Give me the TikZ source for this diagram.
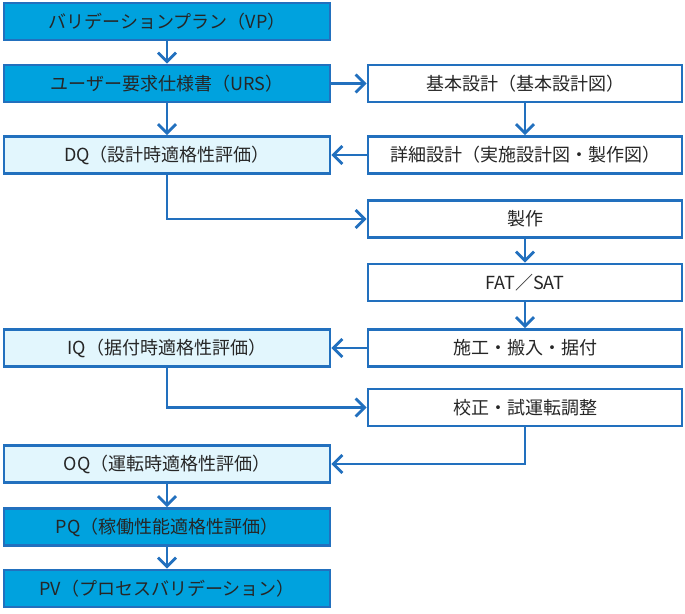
\documentclass[tikz,border=0pt]{standalone}
\usepackage{fontspec}
\newfontfamily\jpfont{Noto Sans CJK JP}
\usetikzlibrary{arrows.meta}

\definecolor{vblue}{RGB}{0,162,222}
\definecolor{vpale}{RGB}{226,246,253}
\definecolor{vline}{RGB}{34,112,190}

\tikzset{
  box/.style={draw=vline,line width=2.8pt,inner sep=0pt,minimum height=37pt,
    font=\jpfont\fontsize{18}{20}\selectfont,text=black!85},
  leftbox/.style={box,minimum width=326pt},
  rightbox/.style={box,fill=white,minimum width=314pt},
  darkbox/.style={leftbox,fill=vblue},
  palebox/.style={leftbox,fill=vpale},
  flow/.style={draw=vline,line width=2.8pt,-{Straight Barb[length=9pt,width=18pt,line width=2.8pt]}}
}

\begin{document}
\begin{tikzpicture}[x=1pt,y=-1pt]

\useasboundingbox (0,0) rectangle (685,613);

\def\lx{167} \def\rx{525}
\def\ya{21.5} \def\yb{83.5} \def\yc{155} \def\yd{219} \def\ye{282.5}
\def\yf{348} \def\yg{407.5} \def\yh{464} \def\yi{527} \def\yj{588.5}

% left column
\node [darkbox] (vp) at (\lx,\ya) {バリデーションプラン（VP）};
\node [darkbox] (urs) at (\lx,\yb) {ユーザー要求仕様書（URS）};
\node [palebox] (dq) at (\lx,\yc) {DQ（設計時適格性評価）};
\node [palebox] (iq) at (\lx,\yf) {IQ（据付時適格性評価）};
\node [palebox] (oq) at (\lx,\yh) {OQ（運転時適格性評価）};
\node [darkbox] (pq) at (\lx,\yi) {PQ（稼働性能適格性評価）};
\node [darkbox] (pv) at (\lx,\yj) {PV（プロセスバリデーション）};

% right column
\node [rightbox] (kihon) at (\rx,\yb) {基本設計（基本設計図）};
\node [rightbox] (shosai) at (\rx,\yc) {詳細設計（実施設計図・製作図）};
\node [rightbox] (seisaku) at (\rx,\yd) {製作};
\node [rightbox] (fat) at (\rx,\ye) {FAT／SAT};
\node [rightbox] (sekou) at (\rx,\yf) {施工・搬入・据付};
\node [rightbox] (kosei) at (\rx,\yg) {校正・試運転調整};

\draw [flow] (vp) -- (urs);
\draw [flow] (urs) -- (dq);
\draw [flow] (urs) -- (kihon);
\draw [flow] (kihon) -- (shosai);
\draw [flow] (shosai) -- (dq);
\draw [flow] (dq.south) |- (seisaku.west);
\draw [flow] (seisaku) -- (fat);
\draw [flow] (fat) -- (sekou);
\draw [flow] (sekou) -- (iq);
\draw [flow] (iq.south) |- (kosei.west);
\draw [flow] (kosei.south) |- (oq.east);
\draw [flow] (oq) -- (pq);
\draw [flow] (pq) -- (pv);
\end{tikzpicture}
\end{document}
